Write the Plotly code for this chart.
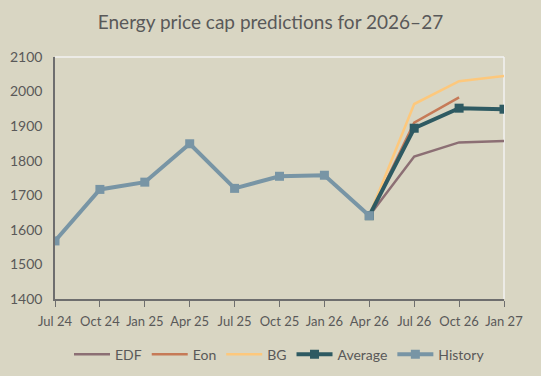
import plotly.graph_objects as go

categories = ["Jul 24", "Oct 24", "Jan 25", "Apr 25", "Jul 25", "Oct 25",
              "Jan 26", "Apr 26", "Jul 26", "Oct 26", "Jan 27"]
history = [1568, 1717, 1738, 1849, 1720, 1755, 1758, 1641, None, None, None]
edf = [None] * 7 + [1641, 1812, 1853, 1857]
eon = [None] * 7 + [1641, 1910, 1983, None]
bg = [None] * 7 + [1641, 1964, 2030, 2045]
average = [None] * 7 + [1641, 1894, 1952, 1949]
y_ticks = [1400, 1500, 1600, 1700, 1800, 1900, 2000, 2100]

FONT = "Lato"
TXT = "#595959"

fig = go.Figure()
fig.add_trace(go.Scatter(x=categories, y=edf, name="EDF", mode="lines",
                         line=dict(color="#8C6F74", width=2.5)))
fig.add_trace(go.Scatter(x=categories, y=eon, name="Eon", mode="lines",
                         line=dict(color="#C67A57", width=2.5)))
fig.add_trace(go.Scatter(x=categories, y=bg, name="BG", mode="lines",
                         line=dict(color="#FDC87C", width=2.5)))
fig.add_trace(go.Scatter(x=categories, y=average, name="Average", mode="lines+markers",
                         line=dict(color="#2E5A62", width=4),
                         marker=dict(symbol="square", size=9, color="#2E5A62")))
fig.add_trace(go.Scatter(x=categories, y=history, name="History", mode="lines+markers",
                         line=dict(color="#7895A5", width=4),
                         marker=dict(symbol="square", size=9, color="#7895A5")))

fig.update_layout(
    width=541, height=376,
    paper_bgcolor="#D9D6C3", plot_bgcolor="#D9D6C3",
    margin=dict(l=55, r=37, t=57, b=77, autoexpand=False),
    title=dict(text="Energy price cap predictions for 2026–27", x=0.5, xanchor="center",
               y=0.94, yanchor="middle",
               font=dict(family=FONT, size=19, color=TXT)),
    font=dict(family=FONT, size=13, color=TXT),
    showlegend=True,
    legend=dict(orientation="h", x=0.5, xanchor="center", y=-0.23, yanchor="middle",
                font=dict(family=FONT, size=14, color=TXT), bgcolor="rgba(0,0,0,0)",
                itemwidth=36, tracegroupgap=0),
    xaxis=dict(type="category", range=[0, 10], showgrid=False, zeroline=False,
               automargin=False,
               showline=True, linecolor="#6E6E6E", linewidth=1.5,
               ticks="outside", ticklen=6, tickcolor="#6E6E6E",
               ticklabelstandoff=4,
               tickfont=dict(family=FONT, size=13, color=TXT)),
    yaxis=dict(range=[1400, 2100], tickvals=y_ticks, showgrid=False, zeroline=False,
               automargin=False,
               showline=True, linecolor="#6E6E6E", linewidth=1.5, ticks="",
               ticklabelstandoff=8,
               tickfont=dict(family=FONT, size=14, color=TXT)),
    shapes=[
        dict(type="line", xref="paper", yref="paper", x0=0, x1=1, y0=1, y1=1,
             line=dict(color="#F2F2F2", width=1.5), layer="below"),
        dict(type="line", xref="paper", yref="paper", x0=1, x1=1, y0=0, y1=1,
             line=dict(color="#F2F2F2", width=1.5), layer="below"),
    ],
)

fig.write_html("out.html", config={"displayModeBar": False},
               post_script="document.body.style.margin='0px';document.body.style.background='#D9D6C3';")
